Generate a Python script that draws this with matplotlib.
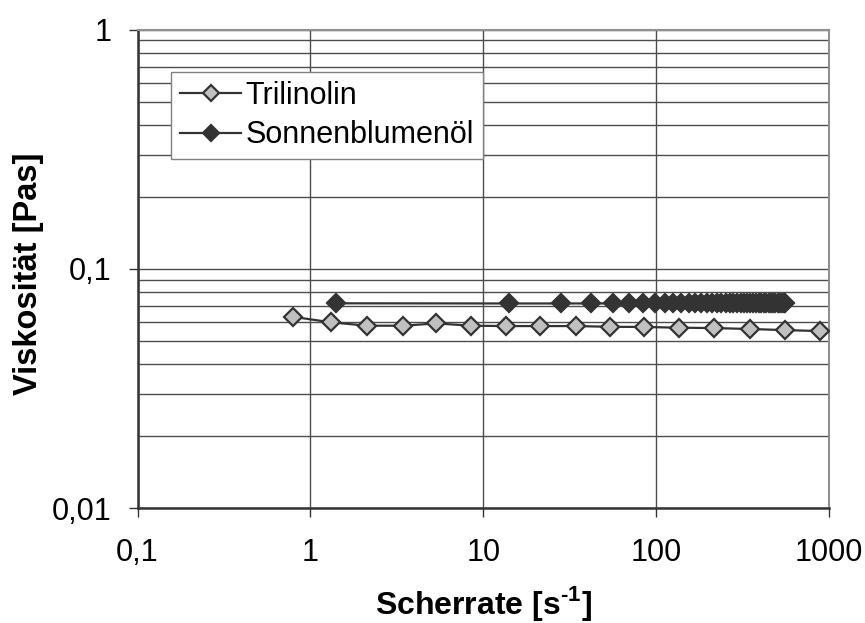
import matplotlib
matplotlib.use("Agg")
import matplotlib.pyplot as plt
from matplotlib.ticker import FixedLocator, FixedFormatter, LogLocator, NullFormatter

# Scherrate [1/s] und Viskosität [Pas]
tri_rate = [0.79, 1.32, 2.13, 3.43, 5.35, 8.53, 13.6, 21.4, 34.2, 54.2,
            85.6, 136, 217, 349, 559, 887]
tri_visc = [0.0630, 0.0597, 0.0578, 0.0578, 0.0591, 0.0578, 0.0576, 0.0576,
            0.0576, 0.0572, 0.0571, 0.0567, 0.0565, 0.0560, 0.0554, 0.0549]

sbo_rate = [1.4, 14, 28, 42, 56, 70, 84, 98, 112, 126, 140, 154, 168, 182,
            196, 210, 224, 238, 252, 266, 280, 294, 308, 322, 336, 350, 364,
            378, 392, 406, 420, 434, 448, 462, 476, 490, 504, 518, 532, 546,
            560]
sbo_visc = [0.0717, 0.0716, 0.0716, 0.0716, 0.0716, 0.0716, 0.0716, 0.0716,
            0.0716, 0.0716, 0.0716, 0.0716, 0.0716, 0.0716, 0.0716, 0.0716,
            0.0716, 0.0716, 0.0716, 0.0716, 0.0716, 0.0716, 0.0716, 0.0716,
            0.0716, 0.0716, 0.0716, 0.0716, 0.0716, 0.0716, 0.0716, 0.0716,
            0.0716, 0.0716, 0.0716, 0.0716, 0.0716, 0.0716, 0.0716, 0.0716,
            0.0716]

x_ticks = [0.1, 1, 10, 100, 1000]
x_labels = ["0,1", "1", "10", "100", "1000"]
y_ticks = [0.01, 0.1, 1]
y_labels = ["0,01", "0,1", "1"]

plt.rcParams["font.family"] = ["Liberation Sans", "DejaVu Sans"]
plt.rcParams["mathtext.fontset"] = "custom"
plt.rcParams["mathtext.rm"] = "Liberation Sans:bold"
plt.rcParams["mathtext.bf"] = "Liberation Sans:bold"

dark = "#333333"

fig = plt.figure(figsize=(8.65, 6.23), dpi=100)
ax = fig.add_axes([137.5 / 865, 1 - 508 / 623, 691.5 / 865, 478.5 / 623])

ax.plot(tri_rate, tri_visc, color=dark, lw=1.6, marker="D", ms=9,
        mfc="#c0c0c0", mec=dark, mew=1.6, label="Trilinolin", zorder=3)
ax.plot(sbo_rate, sbo_visc, color=dark, lw=1.6, marker="D", ms=9,
        mfc=dark, mec=dark, mew=1.6, label="Sonnenblumenöl", zorder=3)

ax.set_xscale("log")
ax.set_yscale("log")
ax.set_xlim(0.1, 1000)
ax.set_ylim(0.01, 1)

ax.xaxis.set_major_locator(FixedLocator(x_ticks))
ax.xaxis.set_major_formatter(FixedFormatter(x_labels))
ax.xaxis.set_minor_locator(FixedLocator([]))
ax.yaxis.set_major_locator(FixedLocator(y_ticks))
ax.yaxis.set_major_formatter(FixedFormatter(y_labels))
ax.yaxis.set_minor_locator(LogLocator(base=10, subs=[2, 3, 4, 5, 6, 7, 8, 9]))
ax.yaxis.set_minor_formatter(NullFormatter())

ax.tick_params(axis="both", which="major", direction="out", length=6.5,
               width=1, color=dark, labelsize=22)
ax.tick_params(axis="x", which="major", pad=15)
ax.tick_params(axis="y", which="major", pad=12)
ax.tick_params(axis="y", which="minor", length=0)

ax.grid(True, which="major", axis="both", color="#4d4d4d", lw=1)
ax.grid(True, which="minor", axis="y", color="#4d4d4d", lw=1)
ax.set_axisbelow(True)

for side in ["left", "bottom"]:
    ax.spines[side].set_color(dark)
    ax.spines[side].set_linewidth(1.8)
for side in ["top", "right"]:
    ax.spines[side].set_color("#909090")
    ax.spines[side].set_linewidth(1.5)

ax.set_xlabel(r"Scherrate [s$^{\text{-1}}$]", fontsize=23, fontweight="bold")
ax.xaxis.set_label_coords(0.5, -0.158)
ax.set_ylabel("Viskosität [Pas]", fontsize=23.5, fontweight="bold")
ax.yaxis.set_label_coords(-0.135, 0.489)

leg = ax.legend(loc="upper left", bbox_to_anchor=(171 / 865, 1 - 72 / 623),
                bbox_transform=fig.transFigure, borderaxespad=0,
                fontsize=22, fancybox=False, framealpha=1,
                edgecolor="#808080", handlelength=2.0, handletextpad=0.15,
                borderpad=0.3, labelspacing=0.3, markerscale=0.85)
leg.get_frame().set_linewidth(1)

fig.savefig("out.png", dpi=100)
